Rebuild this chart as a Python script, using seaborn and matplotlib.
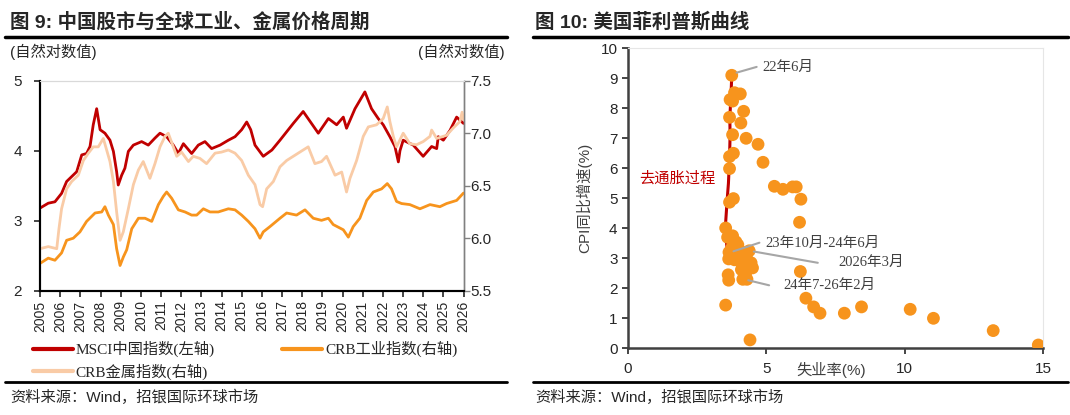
import pandas as pd
import matplotlib
matplotlib.use("Agg")
import matplotlib.pyplot as plt
import seaborn as sns
from matplotlib.lines import Line2D

# === 1. Daten ===
# MSCI China (log), linke Achse
msci_t = [2005.0, 2005.41, 2005.74, 2006.07, 2006.32, 2006.57, 2006.82, 2007.07, 2007.31, 2007.48,
          2007.64, 2007.81, 2007.98, 2008.22, 2008.47, 2008.64, 2008.8, 2008.88, 2009.05, 2009.21,
          2009.38, 2009.63, 2010.04, 2010.37, 2010.7, 2010.95, 2011.28, 2011.61, 2011.86, 2012.11,
          2012.52, 2012.85, 2013.18, 2013.51, 2013.93, 2014.34, 2014.67, 2015.0, 2015.25, 2015.45,
          2015.66, 2016.07, 2016.5, 2016.9, 2017.56, 2018.05, 2018.8, 2019.3, 2019.71, 2020.04,
          2020.2, 2020.62, 2021.11, 2021.44, 2021.77, 2022.02, 2022.35, 2022.6, 2022.77, 2022.85,
          2023.01, 2023.51, 2024.0, 2024.42, 2024.67, 2024.75, 2025.0, 2025.33, 2025.66, 2026.0]
msci_v = [3.18, 3.25, 3.27, 3.39, 3.56, 3.63, 3.70, 3.94, 3.96, 4.06,
          4.37, 4.60, 4.30, 4.25, 4.15, 3.99, 3.70, 3.51, 3.65, 3.75,
          3.99, 4.08, 4.13, 4.08, 4.18, 4.25, 4.20, 4.08, 3.96, 4.10,
          3.96, 4.08, 4.13, 4.03, 4.08, 4.15, 4.20, 4.30, 4.41, 4.30,
          4.08, 3.92, 4.01, 4.15, 4.39, 4.56, 4.25, 4.46, 4.37, 4.48,
          4.32, 4.60, 4.84, 4.60, 4.46, 4.37, 4.20, 4.06, 3.84, 4.00,
          4.15, 4.08, 3.92, 4.06, 4.03, 4.20, 4.15, 4.29, 4.48, 4.39]

# CRB工业指数 (log), rechte Achse
ind_t = [2005.0, 2005.41, 2005.74, 2006.07, 2006.32, 2006.65, 2006.98, 2007.31, 2007.73, 2008.06,
         2008.22, 2008.39, 2008.64, 2008.8, 2008.97, 2009.13, 2009.3, 2009.55, 2009.88, 2010.21,
         2010.54, 2010.87, 2011.12, 2011.28, 2011.53, 2011.86, 2012.19, 2012.52, 2012.77, 2013.1,
         2013.43, 2013.84, 2014.34, 2014.67, 2015.0, 2015.33, 2015.66, 2015.91, 2016.07, 2016.4,
         2016.9, 2017.23, 2017.72, 2018.14, 2018.55, 2018.96, 2019.3, 2019.54, 2020.04, 2020.29,
         2020.53, 2020.86, 2021.2, 2021.53, 2021.94, 2022.22, 2022.43, 2022.68, 2022.93, 2023.34,
         2023.84, 2024.34, 2024.83, 2025.16, 2025.66, 2026.0]
ind_v = [5.76, 5.81, 5.79, 5.86, 5.98, 6.00, 6.06, 6.16, 6.24, 6.25,
         6.30, 6.22, 6.13, 5.90, 5.74, 5.82, 5.89, 6.09, 6.19, 6.19,
         6.16, 6.32, 6.40, 6.44, 6.38, 6.27, 6.25, 6.22, 6.22, 6.28,
         6.25, 6.25, 6.28, 6.27, 6.22, 6.16, 6.09, 6.00, 6.06, 6.11,
         6.19, 6.24, 6.22, 6.27, 6.19, 6.17, 6.19, 6.13, 6.08, 6.01,
         6.11, 6.19, 6.36, 6.44, 6.47, 6.52, 6.47, 6.35, 6.33, 6.32,
         6.28, 6.32, 6.30, 6.33, 6.36, 6.43]

# CRB金属指数 (log), rechte Achse
met_t = [2005.0, 2005.41, 2005.83, 2005.94, 2006.07, 2006.32, 2006.57, 2006.9, 2007.15, 2007.4,
         2007.64, 2007.89, 2008.14, 2008.47, 2008.64, 2008.8, 2008.97, 2009.13, 2009.38, 2009.63,
         2009.88, 2010.12, 2010.45, 2010.7, 2010.95, 2011.2, 2011.36, 2011.61, 2011.78, 2012.02,
         2012.36, 2012.6, 2012.93, 2013.26, 2013.68, 2014.0, 2014.34, 2014.67, 2015.0, 2015.33,
         2015.66, 2015.91, 2016.04, 2016.24, 2016.57, 2016.9, 2017.23, 2017.64, 2018.05, 2018.3,
         2018.63, 2018.96, 2019.21, 2019.63, 2019.96, 2020.2, 2020.37, 2020.7, 2021.03, 2021.28,
         2021.69, 2022.02, 2022.22, 2022.35, 2022.52, 2022.68, 2023.01, 2023.34, 2023.67, 2024.0,
         2024.34, 2024.42, 2024.67, 2025.16, 2025.49, 2025.82, 2025.93, 2026.0]
met_v = [5.90, 5.92, 5.90, 6.09, 6.28, 6.47, 6.54, 6.60, 6.74, 6.81,
         6.87, 6.87, 6.95, 6.73, 6.54, 6.25, 5.98, 6.06, 6.28, 6.51,
         6.65, 6.73, 6.57, 6.71, 6.87, 6.97, 7.00, 6.87, 6.78, 6.82,
         6.73, 6.78, 6.76, 6.71, 6.81, 6.82, 6.84, 6.81, 6.74, 6.60,
         6.51, 6.32, 6.30, 6.47, 6.54, 6.68, 6.74, 6.79, 6.84, 6.87,
         6.71, 6.73, 6.78, 6.60, 6.63, 6.44, 6.57, 6.74, 6.97, 7.06,
         7.08, 7.14, 7.25, 7.11, 6.97, 6.87, 7.00, 6.90, 6.89, 6.92,
         6.97, 7.03, 6.95, 6.98, 7.05, 7.11, 7.20, 7.13]

years = list(range(2005, 2027))

# Phillips-Kurve: Arbeitslosenquote (%) / CPI (%)
unemp = [3.75, 3.85, 4.06, 3.69, 3.78, 4.18, 3.67, 4.08, 3.78, 4.27,
         4.70, 3.67, 3.81, 4.88, 3.67, 5.29, 5.60, 5.95, 6.08, 6.25,
         6.20, 3.67, 3.81, 3.53, 3.60, 3.78, 3.90, 3.97, 3.65, 3.64,
         3.97, 4.15, 4.30, 4.50, 4.38, 4.10, 4.15, 3.62, 3.64, 3.85,
         4.05, 4.25, 4.30, 4.45, 3.75, 4.20, 3.53, 4.41, 6.23, 6.43,
         6.71, 6.94, 7.82, 8.44, 10.2, 11.04, 13.2, 14.83]
cpi = [9.10, 8.52, 8.48, 8.29, 8.24, 7.90, 7.70, 7.51, 7.12, 7.00,
       6.80, 6.39, 6.50, 6.20, 5.99, 5.40, 5.30, 5.38, 5.38, 4.97,
       4.20, 4.87, 4.99, 4.01, 3.70, 3.75, 3.55, 3.45, 3.20, 2.98,
       3.07, 3.20, 2.97, 2.68, 3.25, 2.62, 2.30, 2.45, 2.27, 2.95,
       2.90, 2.50, 2.30, 2.85, 3.35, 3.05, 1.44, 0.28, 2.56, 1.67,
       1.38, 1.17, 1.17, 1.38, 1.30, 1.00, 0.59, 0.11]
# 去通胀过程 Pfad
path_unemp = [3.75, 3.72, 3.68, 3.69, 3.67, 3.63, 3.58, 3.53, 3.55, 3.60]
path_cpi = [9.10, 8.35, 7.70, 7.10, 6.35, 5.50, 4.90, 4.20, 3.60, 3.20]

# Beschriftungen: (Text, Punkt, Linienende, Textposition)
notes = [
    ("22年6月", (3.78, 9.15), (4.65, 9.38), (4.85, 9.35)),
    ("23年10月-24年6月", (3.67, 3.19), (4.75, 3.52), (4.95, 3.50)),
    ("2026年3月", (4.40, 3.25), (6.86, 2.85), (7.62, 2.85)),
    ("24年7-26年2月", (4.20, 2.30), (5.10, 2.10), (5.62, 2.10)),
]

RED = "#C00000"
ORANGE = "#F7941D"
PEACH = "#F9CBA6"
DARK = "#262626"

# === 2. Stil ===
sns.set_style("ticks")
plt.rcParams["font.family"] = ["Liberation Sans", "Noto Sans CJK SC"]
SERIF = ["Liberation Serif", "Noto Sans CJK SC"]

fig = plt.figure(figsize=(10.7, 4.15), dpi=100)

# === 3. Linkes Diagramm ===
ax1 = fig.add_axes([40 / 1070, 1 - 290.7 / 415, 423.5 / 1070, 210 / 415])
ax1r = ax1.twinx()

sns.lineplot(data=pd.DataFrame({"t": msci_t, "v": msci_v}), x="t", y="v", ax=ax1,
             color=RED, lw=2, estimator=None, sort=False)
sns.lineplot(data=pd.DataFrame({"t": ind_t, "v": ind_v}), x="t", y="v", ax=ax1r,
             color=ORANGE, lw=2, estimator=None, sort=False)
sns.lineplot(data=pd.DataFrame({"t": met_t, "v": met_v}), x="t", y="v", ax=ax1r,
             color=PEACH, lw=2, estimator=None, sort=False)

ax1.set_xlim(2005, 2026)
ax1.set_ylim(2, 5)
ax1.set_yticks([2, 3, 4, 5])
ax1r.set_ylim(5.5, 7.5)
ax1r.set_yticks([5.5, 6.0, 6.5, 7.0, 7.5])
ax1r.set_yticklabels([f"{v:.1f}" for v in [5.5, 6.0, 6.5, 7.0, 7.5]])
ax1.set_xticks(years)
ax1.set_xticklabels([str(y) for y in years], rotation=90, fontsize=10)
ax1.set_xlabel("")
ax1.set_ylabel("")
ax1r.set_ylabel("")

ax1.tick_params(axis="y", labelsize=11, length=4, width=1.2, pad=9, colors=DARK)
ax1.tick_params(axis="x", length=4, width=1.2, pad=3, colors=DARK)
ax1r.tick_params(axis="y", labelsize=11, length=4, width=1, pad=1, color="#808080", labelcolor=DARK)
for a in (ax1, ax1r):
    a.spines["left"].set_color("black")
    a.spines["left"].set_linewidth(1.5)
    a.spines["bottom"].set_color("black")
    a.spines["bottom"].set_linewidth(1.5)
    a.spines["top"].set_visible(True)
    a.spines["top"].set_color("#d9d9d9")
    a.spines["top"].set_linewidth(0.8)
    a.spines["right"].set_visible(True)
    a.spines["right"].set_color("#808080")
    a.spines["right"].set_linewidth(1)

handles = [Line2D([], [], color=RED, lw=3), Line2D([], [], color=PEACH, lw=3),
           Line2D([], [], color=ORANGE, lw=3)]
labels = ["MSCI中国指数(左轴)", "CRB金属指数(右轴)", "CRB工业指数(右轴)"]
fig.legend(handles, labels, ncol=2, loc="upper left", bbox_to_anchor=(33 / 1070, 1 - 341 / 415),
           frameon=False, prop={"family": SERIF, "size": 11}, handlelength=2.6,
           handletextpad=0.2, columnspacing=4.4, labelspacing=0.4, borderpad=0,
           borderaxespad=0)

# === 4. Rechtes Diagramm ===
ax2 = fig.add_axes([628 / 1070, 1 - 348.3 / 415, 415 / 1070, 300 / 415])
sns.lineplot(x=path_unemp, y=path_cpi, ax=ax2, color=RED, lw=2.2, estimator=None, sort=False,
             zorder=2)
sns.scatterplot(x=unemp, y=cpi, ax=ax2, color=ORANGE, s=85, edgecolor="none", zorder=3)

ax2.set_xlim(0, 15)
ax2.set_ylim(0, 10)
ax2.set_xticks([0, 5, 10, 15])
ax2.set_yticks(range(0, 11))
ax2.tick_params(axis="both", labelsize=11, length=4, width=1.2, colors=DARK)
ax2.tick_params(axis="x", pad=6)
for s in ("left", "bottom"):
    ax2.spines[s].set_color("#404040")
    ax2.spines[s].set_linewidth(1.8)
for s in ("top", "right"):
    ax2.spines[s].set_visible(True)
    ax2.spines[s].set_color("#e6e6e6")
    ax2.spines[s].set_linewidth(0.8)

ax2.set_ylabel("CPI同比增速(%)", fontsize=11, color="#404040", labelpad=6)
ax2.set_xlabel("失业率(%)", fontsize=11, color="#404040")
ax2.xaxis.set_label_coords(0.49, -0.045)

ax2.text(1.78, 5.66, "去通胀过程", color=RED, fontsize=11, ha="center", va="center",
         family=SERIF)
for txt, pt, end, pos in notes:
    ax2.annotate("", xy=pt, xytext=end,
                 arrowprops=dict(arrowstyle="-", color="#a6a6a6", lw=1.5, shrinkA=0, shrinkB=3))
    ax2.text(pos[0], pos[1], txt, fontsize=10.5, color="#404040", ha="left", va="center",
             family=SERIF)

# === 5. Titel, Linien, Quellen ===
fig.text(10 / 1070, 1 - 21.7 / 415, "图 9: 中国股市与全球工业、金属价格周期", fontsize=14,
         fontweight="bold", va="center", ha="left")
fig.text(535 / 1070, 1 - 21.7 / 415, "图 10: 美国菲利普斯曲线", fontsize=14,
         fontweight="bold", va="center", ha="left")
fig.text(10 / 1070, 1 - 51.7 / 415, "(自然对数值)", fontsize=11, va="center", ha="left")
fig.text(505 / 1070, 1 - 51.7 / 415, "(自然对数值)", fontsize=11, va="center", ha="right")
for x0, x1 in ((5, 507), (533, 1068)):
    for yy, lw in ((37.3, 2.5), (381.7, 2.0)):
        fig.add_artist(Line2D([x0 / 1070, x1 / 1070], [1 - yy / 415] * 2,
                              transform=fig.transFigure, color="black", lw=lw))
fig.text(10 / 1070, 1 - 397 / 415, "资料来源：Wind，招银国际环球市场", fontsize=11,
         va="center", ha="left")
fig.text(535 / 1070, 1 - 397 / 415, "资料来源：Wind，招银国际环球市场", fontsize=11,
         va="center", ha="left")

fig.savefig("out.png", dpi=100, facecolor="white")
